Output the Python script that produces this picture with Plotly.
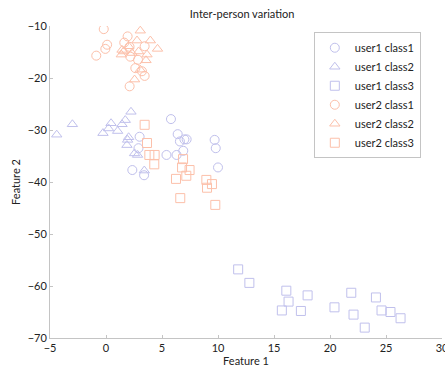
import plotly.graph_objects as go

# user1 class1 (circles)
u1c1_x = [3.0, 2.9, 2.35, 3.4, 5.8, 6.4, 7.0, 7.2, 6.6, 9.7, 9.8, 6.9, 5.4, 6.3, 10.0]
u1c1_y = [-31.3, -33.5, -37.7, -38.7, -27.9, -30.8, -31.8, -31.8, -32.2, -31.9, -33.5, -34.0, -34.8, -34.8, -37.2]
# user1 class2 (triangles)
u1c2_x = [-4.4, -3.0, -0.27, 0.23, 0.45, 1.04, 1.43, 1.72, 2.23, 2.02, 1.93, 1.87, 2.55, 2.82, 3.42]
u1c2_y = [-30.9, -28.9, -30.6, -29.7, -28.7, -30.2, -28.9, -28.1, -26.5, -31.4, -31.9, -32.9, -34.5, -34.8, -37.8]
# user1 class3 (squares)
u1c3_x = [11.8, 12.8, 16.1, 16.3, 15.7, 17.4, 18.0, 20.4, 21.9, 22.1, 23.1, 24.1, 24.6, 25.4, 26.3]
u1c3_y = [-56.8, -59.4, -60.9, -63.0, -64.7, -64.8, -61.8, -64.1, -61.3, -65.5, -68.0, -62.2, -64.7, -65.0, -66.2]
# user2 class1 (circles)
u2c1_x = [-0.2, 0.1, -0.06, -0.87, 1.93, 1.63, 2.1, 3.45, 2.17, 2.86, 2.62, 3.21, 3.45, 2.11]
u2c1_y = [-10.6, -13.6, -14.4, -15.7, -12.0, -13.2, -14.0, -13.9, -15.9, -16.5, -18.1, -18.7, -19.6, -21.6]
# user2 class2 (triangles)
u2c2_x = [3.06, 3.96, 4.6, 2.77, 1.43, 1.37, 2.02, 2.91, 3.66, 3.57, 2.55, 3.06, 1.57, 2.32]
u2c2_y = [-10.9, -12.8, -14.4, -12.8, -14.6, -15.5, -13.9, -14.9, -15.5, -16.6, -20.3, -18.4, -14.9, -15.2]
# user2 class3 (squares)
u2c3_x = [3.45, 3.66, 3.87, 4.34, 4.31, 6.88, 6.79, 7.46, 7.17, 6.25, 8.96, 9.46, 9.02, 6.63, 9.76]
u2c3_y = [-29.0, -32.5, -34.8, -34.8, -36.6, -35.6, -37.2, -37.7, -38.8, -39.4, -39.6, -40.4, -41.1, -43.1, -44.4]

x_ticks = [-5, 0, 5, 10, 15, 20, 25, 30]
y_ticks = [-70, -60, -50, -40, -30, -20, -10]

series = [
    ("user1 class1", u1c1_x, u1c1_y, "circle-open", "#c0c0ec"),
    ("user1 class2", u1c2_x, u1c2_y, "triangle-up-open", "#c0c0ec"),
    ("user1 class3", u1c3_x, u1c3_y, "square-open", "#c0c0ec"),
    ("user2 class1", u2c1_x, u2c1_y, "circle-open", "#fcc0aa"),
    ("user2 class2", u2c2_x, u2c2_y, "triangle-up-open", "#fcc0aa"),
    ("user2 class3", u2c3_x, u2c3_y, "square-open", "#fcc0aa"),
]

fig = go.Figure()
for name, xs, ys, sym, col in series:
    fig.add_trace(go.Scatter(
        x=xs, y=ys, mode="markers", name=name,
        marker=dict(symbol=sym, size=9, color=col, line=dict(width=1, color=col)),
    ))

axis_common = dict(
    showline=True, linecolor="#c4c4c4", linewidth=1,
    showgrid=False, zeroline=False,
    ticks="inside", ticklen=3, tickcolor="#c4c4c4",
    tickfont=dict(size=11, color="#222"),
    mirror=False, ticklabeloverflow="allow", automargin=False,
)
fig.update_layout(
    width=445, height=370,
    margin=dict(l=50, r=3, t=26, b=32),
    paper_bgcolor="white", plot_bgcolor="white",
    font=dict(family="Lato, sans-serif", size=11, color="#222"),
    title=dict(text="Inter-person variation", xref="paper", x=0.49, xanchor="center",
               yref="container", y=0.962, yanchor="middle",
               font=dict(size=11, color="#222")),
    xaxis=dict(range=[-5, 30], tickvals=x_ticks,
               title=dict(text="Feature 1", standoff=2, font=dict(size=11)), **axis_common),
    yaxis=dict(range=[-70, -10], tickvals=y_ticks,
               title=dict(text="Feature 2", standoff=4, font=dict(size=11)), **axis_common),
    legend=dict(x=0.673, xanchor="left", y=0.98, yanchor="top",
                bordercolor="#c4c4c4", borderwidth=1, bgcolor="white",
                font=dict(size=11), tracegroupgap=0, itemwidth=30),
    showlegend=True,
)
fig.write_html("out.html")
